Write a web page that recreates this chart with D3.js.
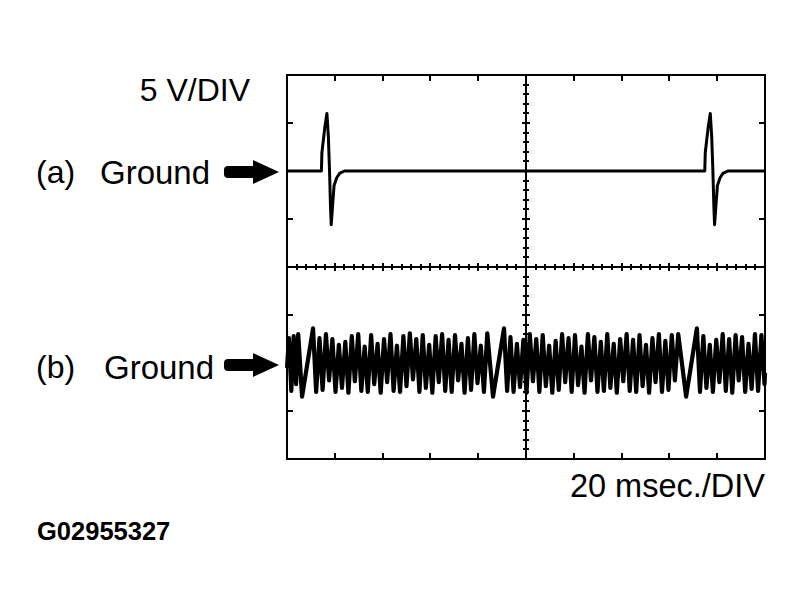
<!DOCTYPE html>
<html><head><meta charset="utf-8">
<script src="https://cdn.jsdelivr.net/npm/d3@7"></script>
<style>
body{margin:0;background:#fff;}
svg{display:block;}
text{font-family:"Liberation Sans",Arial,Helvetica,sans-serif;fill:#000;}
</style></head>
<body>
<svg id="c" width="803" height="616"></svg>
<script>
// ---- data ----
const timeDomain = [0, 200];           // ms (10 div x 20 ms)
const voltDomain = [-10, 10];          // V per panel (4 div x 5 V)
const xDivTicks = [0,20,40,60,80,100,120,140,160,180,200];
const vDivTicks = [-10,-5,0,5,10];
const labels = {vdiv:"5 V/DIV", tdiv:"20 msec./DIV", code:"G02955327", a:"(a)", b:"(b)", ground:"Ground"};

// trace (a): [ms, V]
const traceA = [
 [0,0],[14.4,0],[14.6,1.9],[15.8,4.5],[16.7,6.0],[17.3,3.6],[17.8,0],[18.2,-3.7],[18.5,-5.6],
 [19.1,-3.5],[19.7,-1.5],[20.8,-0.7],[22,-0.25],[24,0],
 [174.8,0],[175.0,1.9],[176.2,4.5],[177.1,6.0],[177.7,3.6],[178.2,0],[178.6,-3.7],[178.9,-5.6],
 [179.5,-3.5],[180.1,-1.5],[181.2,-0.7],[182.4,-0.25],[184.4,0],[200,0]
];

// trace (b): [ms, V]
const traceB = [
 [0,-0.5],[0.8,2.6],[1.8,-2.9],[2.8,2.8],[3.8,-2.2],[4.7,3.0],[6.3,-3.5],[10.9,3.6],
 [12.2,-3.0],[13.6,2.6],[14.9,-2.8],[16.3,3.0],[17.6,-1.8],[19.0,2.5],[20.3,-3.0],[21.7,1.9],
 [23.0,-2.6],[24.4,2.2],[25.7,-3.1],[27.1,2.8],[28.4,-1.9],[29.8,3.0],[31.1,-2.9],[32.5,1.7],
 [33.8,-3.0],[35.2,2.9],[36.5,-2.2],[37.9,2.0],[39.2,-3.1],[40.6,2.5],[41.9,-2.0],[43.3,3.0],
 [44.6,-2.9],[46.0,1.8],[47.3,-3.0],[48.7,2.8],[50.0,-2.4],[51.4,3.1],[52.7,-1.7],[54.1,2.5],
 [55.4,-3.0],[56.8,2.9],[58.1,-2.6],[59.5,1.9],[60.8,-3.1],[62.2,2.8],[63.5,-2.0],[64.9,3.0],
 [66.2,-2.9],[67.6,2.4],[68.9,-3.0],[70.3,2.9],[71.6,-1.8],[73.0,2.0],[74.3,-3.1],[75.7,2.6],
 [77.0,-2.8],[78.4,3.0],[79.7,-2.1],[81.1,1.8],[82.4,-3.0],[83.8,3.1],[86.2,-3.5],[90.8,3.6],
 [92.1,-2.9],[93.5,2.7],[94.8,-3.0],[96.2,2.0],[97.5,-2.5],[98.9,2.4],[100.2,-3.1],[101.6,3.0],
 [102.9,-1.9],[104.3,2.5],[105.6,-3.0],[107.0,2.9],[108.3,-2.4],[109.7,1.8],[111.0,-3.1],[112.4,2.3],
 [113.7,-2.8],[115.1,3.0],[116.4,-2.0],[117.8,2.6],[119.1,-3.0],[120.5,2.9],[121.8,-2.3],[123.2,1.7],
 [124.5,-3.1],[125.9,3.0],[127.2,-1.8],[128.6,2.7],[129.9,-3.0],[131.3,2.2],[132.6,-2.9],[134.0,3.0],
 [135.3,-2.6],[136.7,2.0],[138.0,-3.1],[139.4,2.5],[140.7,-1.9],[142.1,3.0],[143.4,-2.9],[144.8,2.4],
 [146.1,-3.0],[147.5,2.9],[148.8,-2.4],[150.2,1.9],[151.5,-3.1],[152.9,2.6],[154.2,-2.0],[155.6,3.0],
 [156.9,-3.0],[158.3,2.3],[159.6,-2.8],[161.0,2.9],[162.3,-1.8],[163.7,3.0],[167.0,-3.5],[171.5,3.6],
 [172.8,-3.0],[174.2,2.8],[175.5,-2.6],[176.9,1.9],[178.2,-3.0],[179.6,2.4],[180.9,-2.0],[182.3,3.0],
 [183.6,-2.9],[185.0,2.5],[186.3,-3.1],[187.7,2.9],[189.0,-1.8],[190.4,2.7],[191.7,-3.0],[193.1,2.0],
 [194.4,-2.7],[195.8,3.0],[197.1,-2.9],[198.5,2.9],[199.8,-2.2],[200,-1.0]
];

// ---- drawing ----
const svg = d3.select("#c");
const L = 287, R = 765, T = 75, B = 459, MID = 267;
const x = d3.scaleLinear().domain(timeDomain).range([L, R]);
const yA = d3.scaleLinear().domain(voltDomain).range([MID, T]);
const yB = d3.scaleLinear().domain(voltDomain).range([B, MID]);
const minorT = d3.range(0, 200.01, 4);
const minorV = d3.range(-10, 10.01, 1);

const g = svg.append("g").attr("stroke", "#000").attr("fill", "none").attr("shape-rendering","crispEdges");

// frame
g.append("rect").attr("x", L).attr("y", T).attr("width", R - L).attr("height", B - T).attr("stroke-width", 2);
// center vertical & horizontal divider
g.append("line").attr("x1", x(100)).attr("x2", x(100)).attr("y1", T).attr("y2", B).attr("stroke-width", 2);
g.append("line").attr("x1", L).attr("x2", R).attr("y1", MID).attr("y2", MID).attr("stroke-width", 2);

// major ticks on top/bottom borders
xDivTicks.filter(d => d > 0 && d < 200 && d !== 100).forEach(d => {
  g.append("line").attr("x1", x(d)).attr("x2", x(d)).attr("y1", T).attr("y2", T + 6).attr("stroke-width", 2);
  g.append("line").attr("x1", x(d)).attr("x2", x(d)).attr("y1", B).attr("y2", B - 6).attr("stroke-width", 2);
});
// major ticks on left/right borders for both panels
[yA, yB].forEach(ys => {
  vDivTicks.filter(v => v > -10 && v < 10).forEach(v => {
    g.append("line").attr("x1", L).attr("x2", L + 6).attr("y1", ys(v)).attr("y2", ys(v)).attr("stroke-width", 2);
    g.append("line").attr("x1", R).attr("x2", R - 6).attr("y1", ys(v)).attr("y2", ys(v)).attr("stroke-width", 2);
  });
});
// minor ticks on divider
minorT.filter(d => d > 0 && d < 200).forEach(d => {
  const len = (d % 20 === 0) ? 4 : 3;
  g.append("line").attr("x1", x(d)).attr("x2", x(d)).attr("y1", MID - len).attr("y2", MID + len).attr("stroke-width", 2);
});
// minor ticks on center vertical
[yA, yB].forEach(ys => {
  minorV.filter(v => v > -10 && v < 10).forEach(v => {
    const len = (v % 5 === 0) ? 4 : 3;
    g.append("line").attr("x1", x(100) - len).attr("x2", x(100) + len).attr("y1", ys(v)).attr("y2", ys(v)).attr("stroke-width", 2);
  });
});

// traces
const lineA = d3.line().x(d => x(d[0])).y(d => yA(d[1]));
const lineB = d3.line().x(d => x(d[0])).y(d => yB(d[1]));
svg.append("path").attr("d", lineA(traceA)).attr("fill", "none").attr("stroke", "#000")
  .attr("stroke-width", 3).attr("stroke-linejoin", "round");
svg.append("path").attr("d", lineB(traceB)).attr("fill", "none").attr("stroke", "#000")
  .attr("stroke-width", 4.2).attr("stroke-linejoin", "round");

// arrows
function arrow(cy) {
  const a = svg.append("g").attr("fill", "#000");
  a.append("rect").attr("x", 224).attr("y", cy - 6).attr("width", 32).attr("height", 12).attr("rx", 4);
  a.append("path").attr("d", `M253,${cy - 12}L279,${cy}L253,${cy + 12}Z`);
}
arrow(yA(0) + 1);
arrow(yB(0) + 2);

// texts
svg.append("text").attr("x", 250).attr("y", 101).attr("text-anchor", "end").attr("font-size", 32).text(labels.vdiv);
svg.append("text").attr("x", 36).attr("y", 183).attr("font-size", 32).text(labels.a);
svg.append("text").attr("x", 100).attr("y", 184).attr("font-size", 33).text(labels.ground);
svg.append("text").attr("x", 36).attr("y", 378).attr("font-size", 32).text(labels.b);
svg.append("text").attr("x", 104).attr("y", 379).attr("font-size", 33).text(labels.ground);
svg.append("text").attr("x", 765).attr("y", 497).attr("text-anchor", "end").attr("font-size", 32.5).text(labels.tdiv);
svg.append("text").attr("x", 37).attr("y", 540).attr("font-size", 25.5).attr("font-weight", "bold").text(labels.code);
</script>
</body></html>
